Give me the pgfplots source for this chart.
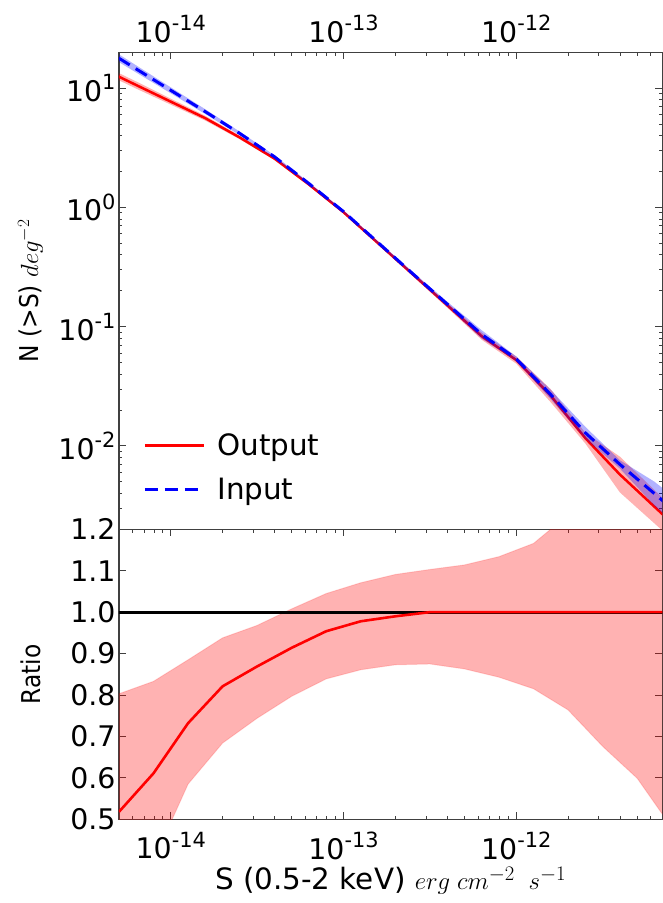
\documentclass[border=0pt]{standalone}
\usepackage{fontspec}
\setmainfont{DejaVu Sans}
\newfontfamily\condfont{DejaVu Sans Condensed}
\usepackage{pgfplots}
\usepackage{pgfplotstable}
\pgfplotsset{compat=1.18}

\newcommand\tickfont{\fontsize{28.5}{31}\selectfont}
\newcommand\labfont{\fontsize{29.5}{33}\selectfont}
\newcommand\ylabfont{\fontsize{26}{30}\selectfont}
\newcommand\legfont{\fontsize{29.5}{33}\selectfont}
\newcommand\sups[1]{\raisebox{0.42em}{\fontsize{21}{21}\selectfont #1}}

\pgfplotstableread{
x red blue
3.981e-15 14.66 21.93
6.310e-15 10.62 14.49
1.000e-14 7.71 9.594
1.585e-14 5.60 6.353
2.512e-14 3.855 4.169
3.981e-14 2.570 2.661
6.310e-14 1.556 1.585
1.000e-13 0.912 0.9226
1.585e-13 0.501 0.5070
2.512e-13 0.2754 0.2786
3.981e-13 0.1514 0.1549
6.310e-13 0.0832 0.08610
1.000e-12 0.05248 0.05370
1.585e-12 0.02630 0.02692
2.512e-12 0.01161 0.01288
3.981e-12 0.005754 0.006998
6.310e-12 0.003090 0.003981
1.000e-11 0.001660 0.002239
}\topdata

\pgfplotstableread{
x r
5.012e-15 0.518
7.943e-15 0.611
1.259e-14 0.732
1.995e-14 0.821
3.162e-14 0.869
5.012e-14 0.914
7.943e-14 0.954
1.259e-13 0.978
1.995e-13 0.990
3.162e-13 1.000
5.012e-13 1.000
7.943e-13 1.000
1.259e-12 1.000
1.995e-12 1.000
3.162e-12 1.000
5.012e-12 1.000
7.943e-12 1.000
}\ratiodata

\begin{document}
\begin{tikzpicture}
\begin{axis}[name=top, at={(0bp,290bp)}, anchor=south west,
  scale only axis, width=543.3bp, height=477bp,
  xmode=log, ymode=log, xmin=5.012e-15, xmax=7e-12, ymin=2e-3, ymax=20,
  tick align=inside,
  major tick length=7bp, minor tick length=3.5bp,
  axis line style={line width=1.2bp, black!75},
  tick style={black!75, line width=0.9bp},
  tick label style={font=\tickfont},
  xticklabel style={yshift=6bp},
  xtick={1e-14,1e-13,1e-12},
  xticklabels={10\sups{-14},10\sups{-13},10\sups{-12}},
  minor xtick={6e-15,7e-15,8e-15,9e-15,2e-14,3e-14,4e-14,5e-14,6e-14,7e-14,8e-14,9e-14,2e-13,3e-13,4e-13,5e-13,6e-13,7e-13,8e-13,9e-13,2e-12,3e-12,4e-12,5e-12,6e-12},
  xtick pos=right, xticklabel pos=right,
  ytick pos=both, yticklabel pos=left,
  ytick={1e-2,1e-1,1,10},
  yticklabels={10\sups{-2},10\sups{-1},10\sups{0},10\sups{1}},
  minor ytick={3e-3,4e-3,5e-3,6e-3,7e-3,8e-3,9e-3,2e-2,3e-2,4e-2,5e-2,6e-2,7e-2,8e-2,9e-2,0.2,0.3,0.4,0.5,0.6,0.7,0.8,0.9,2,3,4,5,6,7,8,9},
  ylabel={\condfont N (>S) $deg^{-2}$},
  ylabel style={at={(axis description cs:-0.163,0.5)}, anchor=center, font=\ylabfont},
  legend style={draw=none, fill=none, at={(axis description cs:0.039,0.05)}, anchor=south west, font=\legfont, row sep=17bp, legend cell align=left,
    /tikz/every odd column/.append style={column sep=10bp}},
  legend image code/.code={\draw[#1] (0bp,0bp) -- (59bp,0bp);},
]
\addplot[fill=red, fill opacity=0.3, draw=none, forget plot] coordinates {
(3.981e-15,15.71) (6.310e-15,11.38) (1e-14,8.17) (1.585e-14,5.86) (2.512e-14,3.990) (3.981e-14,2.642) (6.310e-14,1.592) (1e-13,0.933) (1.585e-13,0.5150) (2.512e-13,0.2851) (3.981e-13,0.1585) (6.310e-13,0.08915) (1e-12,0.05623) (1.585e-12,0.02985) (2.512e-12,0.01288) (3.981e-12,0.008128) (6.310e-12,0.004266) (1e-11,0.002239)
(1e-11,0.001230) (6.310e-12,0.002239) (3.981e-12,0.004074) (2.512e-12,0.01047) (1.585e-12,0.02317) (1e-12,0.04898) (6.310e-13,0.07765) (3.981e-13,0.1446) (2.512e-13,0.2661) (1.585e-13,0.4874) (1e-13,0.891) (6.310e-14,1.521) (3.981e-14,2.500) (2.512e-14,3.724) (1.585e-14,5.35) (1e-14,7.28) (6.310e-15,9.91) (3.981e-15,13.68)};
\addplot[red, line width=2.5bp] table[x=x, y=red] {\topdata};
\addlegendentry{Output}
\addplot[fill=blue, fill opacity=0.3, draw=none, forget plot] coordinates {
(3.981e-15,23.77) (6.310e-15,15.53) (1e-14,10.16) (1.585e-14,6.652) (2.512e-14,4.315) (3.981e-14,2.736) (6.310e-14,1.622) (1e-13,0.9441) (1.585e-13,0.5212) (2.512e-13,0.2884) (3.981e-13,0.1622) (6.310e-13,0.09332) (1e-12,0.05623) (1.585e-12,0.02951) (2.512e-12,0.01445) (3.981e-12,0.007586) (6.310e-12,0.005012) (1e-11,0.002951)
(1e-11,0.001698) (6.310e-12,0.003162) (3.981e-12,0.006457) (2.512e-12,0.01148) (1.585e-12,0.02455) (1e-12,0.05129) (6.310e-13,0.07944) (3.981e-13,0.1479) (2.512e-13,0.2692) (1.585e-13,0.4932) (1e-13,0.9016) (6.310e-14,1.549) (3.981e-14,2.589) (2.512e-14,4.028) (1.585e-14,6.067) (1e-14,9.057) (6.310e-15,13.52) (3.981e-15,20.23)};
\addplot[blue, line width=3bp, dash pattern=on 13bp off 7bp] table[x=x, y=blue] {\topdata};
\addlegendentry{Input}
\end{axis}

\begin{axis}[name=bot, at={(0bp,0bp)}, anchor=south west,
  scale only axis, width=543.3bp, height=290bp,
  xmode=log, xmin=5.012e-15, xmax=7e-12, ymin=0.5, ymax=1.2,
  tick align=inside,
  major tick length=7bp, minor tick length=3.5bp,
  axis line style={line width=1.2bp, black!75},
  tick style={black!75, line width=0.9bp},
  tick label style={font=\tickfont},
  xticklabel style={yshift=-9bp},
  xtick={1e-14,1e-13,1e-12},
  xticklabels={10\sups{-14},10\sups{-13},10\sups{-12}},
  minor xtick={6e-15,7e-15,8e-15,9e-15,2e-14,3e-14,4e-14,5e-14,6e-14,7e-14,8e-14,9e-14,2e-13,3e-13,4e-13,5e-13,6e-13,7e-13,8e-13,9e-13,2e-12,3e-12,4e-12,5e-12,6e-12},
  xtick pos=both, xticklabel pos=left,
  ytick pos=both, yticklabel pos=left,
  ytick={0.5,0.6,0.7,0.8,0.9,1.0,1.1,1.2},
  yticklabels={0.5,0.6,0.7,0.8,0.9,1.0,1.1,1.2},
  ylabel={\condfont Ratio},
  ylabel style={at={(axis description cs:-0.163,0.5)}, anchor=center, font=\ylabfont},
  xlabel={S (0.5-2 keV) $erg\;cm^{-2}\;\;s^{-1}$},
  xlabel style={font=\labfont, yshift=-1bp},
]
\addplot[fill=red, fill opacity=0.3, draw=red, draw opacity=0.15, line width=1bp] coordinates {
(5.012e-15,0.803) (7.943e-15,0.833) (1.259e-14,0.885) (1.995e-14,0.938) (3.162e-14,0.968) (5.012e-14,1.008) (7.943e-14,1.045) (1.259e-13,1.071) (1.995e-13,1.091) (3.162e-13,1.103) (5.012e-13,1.114) (7.943e-13,1.134) (1.259e-12,1.166) (1.995e-12,1.235) (3.162e-12,1.40) (5.012e-12,1.55) (7.943e-12,1.70)
(7.943e-12,0.48) (5.012e-12,0.599) (3.162e-12,0.676) (1.995e-12,0.764) (1.259e-12,0.815) (7.943e-13,0.843) (5.012e-13,0.863) (3.162e-13,0.875) (1.995e-13,0.873) (1.259e-13,0.861) (7.943e-14,0.839) (5.012e-14,0.797) (3.162e-14,0.744) (1.995e-14,0.684) (1.259e-14,0.585) (7.943e-15,0.40) (5.012e-15,0.25)};
\addplot[black, line width=3bp] coordinates {(1e-15,1.0) (1e-11,1.0)};
\addplot[red, line width=2.6bp] table[x=x, y=r] {\ratiodata};
\end{axis}
\pgfresetboundingbox
\useasboundingbox (-119bp,-83.7bp) rectangle (544bp,819.3bp);
\end{tikzpicture}
\end{document}
